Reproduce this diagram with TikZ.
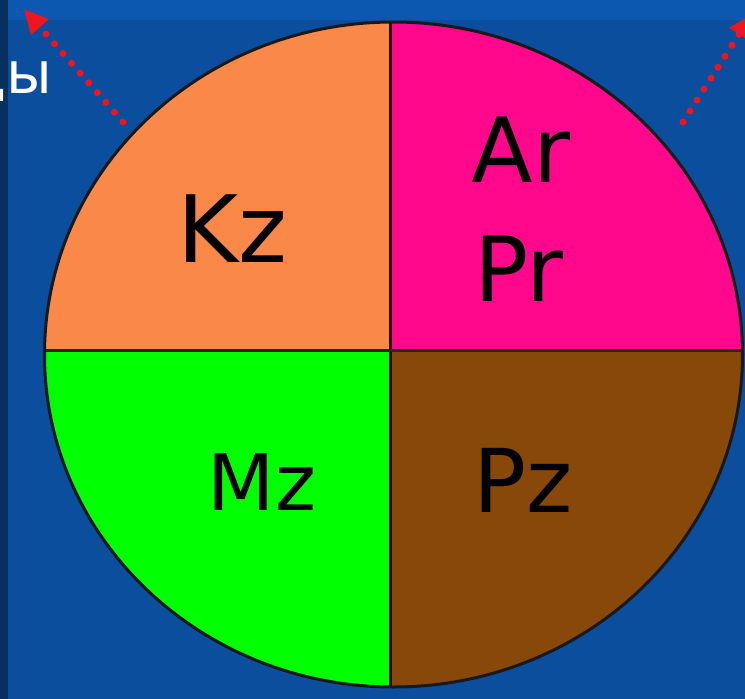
\documentclass[tikz,border=0pt]{standalone}
\usepackage{fontspec}
\setmainfont{DejaVu Sans}
\usetikzlibrary{arrows.meta}
\definecolor{bgblue}{RGB}{11,78,158}
\definecolor{bgtop}{RGB}{12,88,176}
\definecolor{qorange}{RGB}{250,136,72}
\definecolor{qpink}{RGB}{255,8,140}
\definecolor{qgreen}{RGB}{0,255,0}
\definecolor{qbrown}{RGB}{136,72,10}
\definecolor{arrred}{RGB}{240,20,30}
\tikzset{
  lbl/.style={text=black, inner sep=0pt, anchor=center},
  dotarrow/.style={arrred, line width=7pt, line cap=round, dash pattern=on 0pt off 13pt,
    -{Triangle[length=24pt,width=22pt,line cap=butt]}},
}
\begin{document}
\begin{tikzpicture}[x=1pt,y=-1pt]
\useasboundingbox (0,0) rectangle (745,699);
\clip (0,0) rectangle (745,699);
\fill[bgblue] (0,0) rectangle (745,699);
\fill[bgtop] (0,0) rectangle (745,20);
\fill[black!40!bgblue] (0,0) rectangle (8,699);
% quadrants
\begin{scope}
  \clip (393.5,354.5) ellipse [x radius=349, y radius=332.5];
  \fill[qorange] (0,0) rectangle (390,350);
  \fill[qpink] (390,0) rectangle (745,350);
  \fill[qgreen] (0,350) rectangle (390,699);
  \fill[qbrown] (390,350) rectangle (745,699);
  \draw[black!80!red, line width=3pt] (390,0) -- (390,699);
  \draw[black!85, line width=3pt] (0,350) -- (745,350);
\end{scope}
\draw[black!90, line width=3pt] (393.5,354.5) ellipse [x radius=349, y radius=332.5];
% labels
\node[lbl, font=\fontsize{93}{100}\selectfont] (kz) at (232,229) {\vphantom{K}Kz};
\node[lbl, font=\fontsize{90}{100}\selectfont] (ar) at (521,150) {\vphantom{A}Ar};
\node[lbl, font=\fontsize{90}{100}\selectfont] (pr) at (519,269) {\vphantom{P}Pr};
\node[lbl, font=\fontsize{78}{90}\selectfont] (mz) at (262,482) {\vphantom{M}Mz};
\node[lbl, font=\fontsize{88}{96}\selectfont] (pz) at (523,480) {\vphantom{P}Pz};
% cut-off text (cut at the left edge as in the reference)
\node[text=white, inner sep=0pt, anchor=base east, font=\fontsize{58}{62}\selectfont] (dy) at (53,93) {ды};
% arrows
\coordinate (a1s) at (123,122);
\coordinate (a1e) at (24,9);
\coordinate (a2s) at (683,122);
\coordinate (a2e) at (752,14);
\draw[dotarrow] (a1s) -- (a1e);
\draw[dotarrow] (a2s) -- (a2e);
\end{tikzpicture}
\end{document}
